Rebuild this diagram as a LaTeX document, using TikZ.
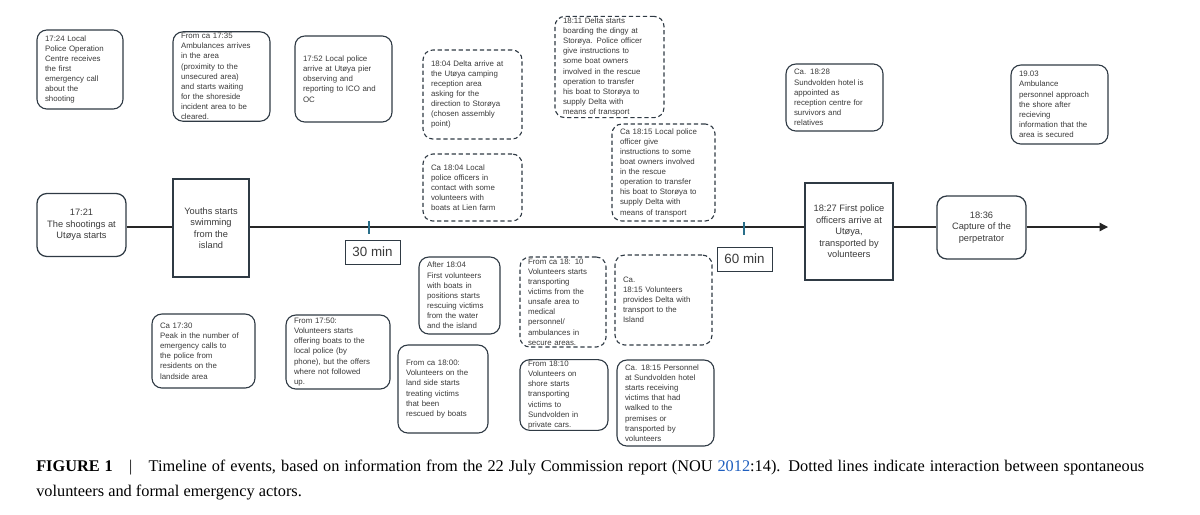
\documentclass[tikz,border=0pt]{standalone}
\usepackage{fontspec}
\setmainfont{Liberation Serif}
\newfontfamily\boxfont{Liberation Sans}
\usetikzlibrary{arrows.meta}
\definecolor{bord}{HTML}{2F3A44}
\definecolor{txt}{HTML}{3A3A3A}
\definecolor{tick}{HTML}{2A6F8A}
\definecolor{linkblue}{HTML}{1F5FBF}
\tikzset{
  base/.style={draw=bord, line width=0.8pt, text=txt, align=left, inner sep=1pt,
    font=\boxfont\fontsize{5.6}{7.2}\selectfont},
  sbox/.style={base, rounded corners=7pt},
  dbox/.style={base, rounded corners=7pt, dashed, dash pattern=on 3pt off 2pt},
  ebox/.style={draw=bord, line width=0.9pt, text=txt, align=center,
    font=\boxfont\fontsize{6.6}{8.2}\selectfont},
  minbox/.style={draw=bord, line width=0.6pt, font=\boxfont\fontsize{9.5}{11}\selectfont, text=txt, inner sep=0pt},
  tl/.style={line width=0.9pt, draw=black!85},
  tk/.style={line width=0.9pt, draw=tick}
}
\begin{document}
\begin{tikzpicture}[x=0.025cm,y=-0.025cm]
\useasboundingbox (0,0) rectangle (1200,514);
\newcommand{\bx}[7]{\node[#1, minimum width=#4*0.025cm, minimum height=#5*0.025cm, text width=(#4-16)*0.025cm] (#2) at (#3) {#6#7};}
% top row
\bx{sbox}{a}{80,69.5}{86}{79}{}{17:24 Local\\Police Operation\\Centre receives\\the first\\emergency call\\about the\\shooting}
\bx{sbox}{b}{221.5,76.5}{97}{87}{}{From ca 17:35\\Ambulances arrives\\in the area\\(proximity to the\\unsecured area)\\and starts waiting\\for the shoreside\\incident area to be\\cleared.}
\bx{sbox}{c}{343.5,79}{97}{86}{}{17:52 Local police\\arrive at Utøya pier\\observing and\\reporting to ICO and\\OC}
\bx{dbox}{d}{472.5,94.5}{99}{89}{}{18:04 Delta arrive at\\the Utøya camping\\reception area\\asking for the\\direction to Storøya\\(chosen assembly\\point)}
\bx{dbox}{e}{472.5,187.5}{99}{67}{}{Ca 18:04 Local\\police officers in\\contact  with some\\volunteers with\\boats at Lien farm}
\bx{dbox}{f}{609.5,67}{109}{98}{}{18:11 Delta starts\\boarding the dingy at\\Storøya. Police officer\\give instructions to\\some boat owners\\involved in the rescue\\operation to transfer\\his boat to Storøya to\\supply Delta with\\means of transport}
\bx{dbox}{g}{663.5,172.5}{103}{97}{}{Ca 18:15 Local police\\officer give\\instructions to  some\\boat owners involved\\in the rescue\\operation to transfer\\his boat to Storøya to\\supply  Delta with\\means of transport}
\bx{sbox}{h}{834.5,97.5}{97}{67}{}{Ca. 18:28\\Sundvolden hotel is\\appointed as\\reception centre for\\survivors and\\relatives}
\bx{sbox}{i}{1059.5,104.5}{97}{79}{}{19.03\\Ambulance\\personnel approach\\the shore after\\recieving\\information that the\\area is secured}
% timeline nodes
\node[ebox, rounded corners=7pt, minimum width=89*0.025cm, minimum height=63*0.025cm] (s) at (81.5,225) {17:21\\The shootings at\\Utøya starts};
\node[ebox, minimum width=76*0.025cm, minimum height=98*0.025cm] (y) at (211,228) {Youths starts\\swimming\\from the\\island};
\node[ebox, minimum width=88*0.025cm, minimum height=97*0.025cm] (p) at (849,231.5) {18:27 First police\\officers arrive at\\Utøya,\\transported by\\volunteers};
\node[ebox, rounded corners=7pt, minimum width=89*0.025cm, minimum height=63*0.025cm] (q) at (981.5,227.5) {18:36\\Capture of the\\perpetrator};
\coordinate (end) at (1108,227);
\draw[tl] (s.east |- end) -- (y.west |- end);
\draw[tl] (y.east |- end) -- (p.west |- end);
\draw[tl] (p.east |- end) -- (q.west |- end);
\draw[tl,-{Triangle[length=6pt,width=6pt]}] (q.east |- end) -- (end);
\coordinate (t1a) at (369,221); \coordinate (t1b) at (369,234);
\coordinate (t2a) at (744,222); \coordinate (t2b) at (744,235);
\draw[tk] (t1a) -- (t1b);
\draw[tk] (t2a) -- (t2b);
\node[minbox, minimum width=55*0.025cm, minimum height=24*0.025cm] (m30) at (372.5,252) {30 min};
\node[minbox, minimum width=55*0.025cm, minimum height=24*0.025cm] (m60) at (744.5,259) {60 min};
% bottom
\bx{sbox}{j}{203.5,351}{103}{74}{}{Ca 17:30\\Peak in the number of\\emergency calls to\\the police from\\residents on the\\landside area}
\bx{sbox}{k}{338,352}{104}{74}{}{From 17:50:\\ Volunteers starts\\offering boats to the\\local police (by\\phone), but the offers\\where not followed\\up.}
\bx{sbox}{l}{459.5,295.5}{81}{77}{}{After 18:04\\First volunteers\\with boats in\\positions starts\\rescuing victims\\from the water\\and the island}
\bx{sbox}{m}{443,389}{90}{88}{}{From ca 18:00:\\Volunteers on the\\land side starts\\treating victims\\that been\\rescued by boats}
\bx{dbox}{n}{563,302}{86}{90}{}{From ca 18: 10\\Volunteers starts\\transporting\\victims from the\\unsafe area to\\medical\\personnel/\\ambulances in\\secure areas.}
\bx{dbox}{o}{663.5,300}{97}{90}{}{Ca.\\18:15 Volunteers\\provides Delta with\\transport to the\\Island}
\bx{sbox}{r}{564,395}{88}{70}{}{From 18:10\\Volunteers on\\shore starts\\transporting\\victims to\\Sundvolden in\\private cars.}
\bx{sbox}{u}{665.5,403}{97}{86}{}{Ca. 18:15 Personnel\\at Sundvolden hotel\\starts receiving\\victims that had\\walked to the\\premises or\\transported by\\volunteers}
% caption
\node[anchor=north west, text width=1108*0.025cm, align=justify, inner sep=0pt,
  font=\fontsize{11.6}{17.5}\selectfont] (cap) at (36,460)
 {\textbf{FIGURE 1}\quad|\quad Timeline of events, based on information from the 22 July Commission report (NOU \textcolor{linkblue}{2012}:14). Dotted lines indicate interaction between spontaneous volunteers and formal emergency actors.};
\end{tikzpicture}
\end{document}
